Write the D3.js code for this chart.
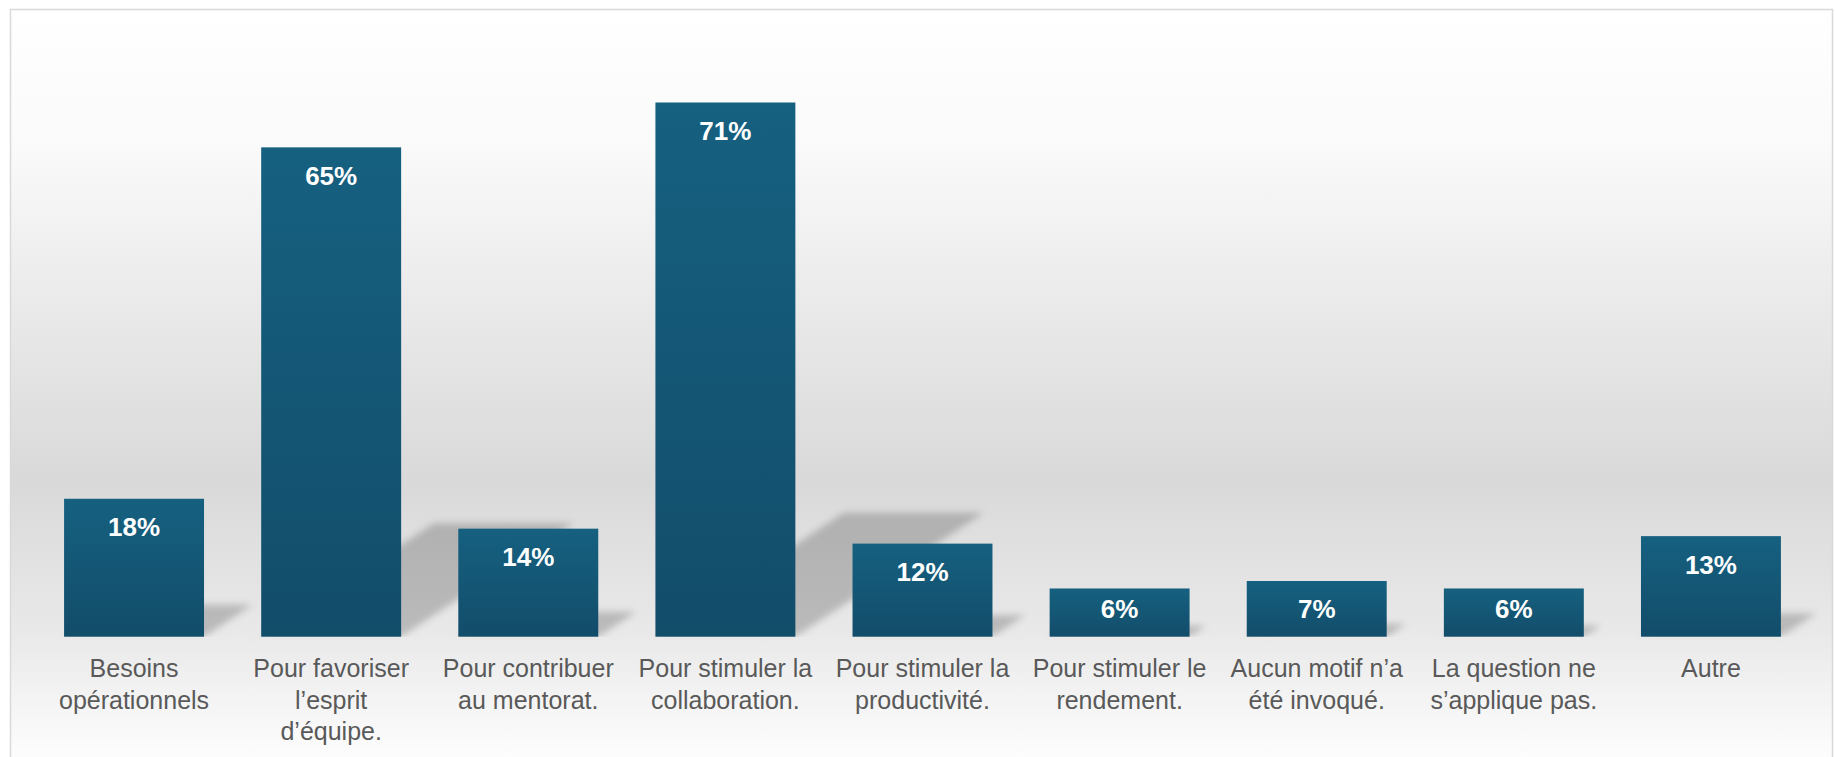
<!DOCTYPE html>
<html>
<head>
<meta charset="utf-8">
<script src="https://cdn.jsdelivr.net/npm/d3@7"></script>
<style>
  body { margin: 0; background: #ffffff; }
  svg { display: block; }
</style>
</head>
<body>
<div id="chart"></div>
<script>
// data
var categories = [
  "Besoins\nopérationnels",
  "Pour favoriser\nl’esprit\nd’équipe.",
  "Pour contribuer\nau mentorat.",
  "Pour stimuler la\ncollaboration.",
  "Pour stimuler la\nproductivité.",
  "Pour stimuler le\nrendement.",
  "Aucun motif n’a\nété invoqué.",
  "La question ne\ns’applique pas.",
  "Autre"
];
var values = [18, 65, 14, 71, 12, 6, 7, 6, 13];
var valueLabels = ["18%", "65%", "14%", "71%", "12%", "6%", "7%", "6%", "13%"];

var width = 1835,
    height = 757,
    baseline = 636.7;

var svg = d3.select("#chart").append("svg")
    .attr("width", width)
    .attr("height", height);

var defs = svg.append("defs");

// chart area background: white -> grey -> white
var bg = defs.append("linearGradient")
    .attr("id", "bg")
    .attr("gradientUnits", "userSpaceOnUse")
    .attr("x1", 0).attr("x2", 0)
    .attr("y1", 9).attr("y2", 770);
[[0, "#ffffff"], [0.18, "#fafafa"], [0.32, "#efefef"], [0.62, "#d9d9d9"], [0.82, "#e9e9e9"], [1, "#ffffff"]]
  .forEach(function(s) { bg.append("stop").attr("offset", s[0]).attr("stop-color", s[1]); });

var barGrad = defs.append("linearGradient")
    .attr("id", "barGrad")
    .attr("x1", 0).attr("x2", 0).attr("y1", 0).attr("y2", 1);
barGrad.append("stop").attr("offset", 0).attr("stop-color", "#166080");
barGrad.append("stop").attr("offset", 1).attr("stop-color", "#124d6a");

defs.append("filter")
    .attr("id", "blur")
    .attr("x", "-20%").attr("y", "-20%").attr("width", "140%").attr("height", "140%")
  .append("feGaussianBlur")
    .attr("stdDeviation", 3.5);

defs.append("clipPath")
    .attr("id", "plotClip")
  .append("rect")
    .attr("x", 0).attr("y", 0)
    .attr("width", width).attr("height", baseline);

svg.append("rect")
    .attr("x", 10.5)
    .attr("y", 9.5)
    .attr("width", 1822)
    .attr("height", 770)
    .attr("fill", "url(#bg)")
    .attr("stroke", "#d9d9d9")
    .attr("stroke-width", 1.5);

var x = d3.scaleBand()
    .domain(categories)
    .range([35.5, 1809.5])
    .paddingInner(0.29)
    .paddingOuter(0.145);

var y = d3.scaleLinear()
    .domain([-0.45, 71])
    .range([baseline, 102.5]);

var y0 = y.range()[0];

// perspective shadows (upper right)
svg.append("g")
    .attr("clip-path", "url(#plotClip)")
  .append("g")
    .attr("filter", "url(#blur)")
  .selectAll("polygon")
  .data(values)
  .enter().append("polygon")
    .attr("points", function(d, i) {
      var x0 = x(categories[i]),
          x1 = x0 + x.bandwidth(),
          sh = 0.232 * (y0 - y(d)),
          dx = 1.52 * sh;
      return [[x0, y0], [x1, y0], [x1 + dx, y0 - sh], [x0 + dx, y0 - sh]].join(" ");
    })
    .attr("fill", "#000")
    .attr("fill-opacity", 0.2);

svg.append("g")
  .selectAll("rect")
  .data(values)
  .enter().append("rect")
    .attr("x", function(d, i) { return x(categories[i]); })
    .attr("y", function(d) { return y(d); })
    .attr("width", x.bandwidth())
    .attr("height", function(d) { return y0 - y(d); })
    .attr("fill", "url(#barGrad)");

svg.append("g")
  .selectAll("text")
  .data(values)
  .enter().append("text")
    .attr("x", function(d, i) { return x(categories[i]) + x.bandwidth() / 2; })
    .attr("y", function(d) { return Math.min(y(d) + 37.5, y0 - 18.5); })
    .attr("text-anchor", "middle")
    .style("font-family", "'Liberation Sans', Arial, sans-serif")
    .style("font-weight", "bold")
    .style("font-size", "26px")
    .style("fill", "#ffffff")
    .text(function(d, i) { return valueLabels[i]; });

// category labels
var cat = svg.append("g")
  .selectAll("text")
  .data(categories)
  .enter().append("text")
    .attr("text-anchor", "middle")
    .style("font-family", "'Liberation Sans', Arial, sans-serif")
    .style("font-size", "25px")
    .style("fill", "#595959");

cat.selectAll("tspan")
  .data(function(d) { return d.split("\n").map(function(t) { return {t: t, c: d}; }); })
  .enter().append("tspan")
    .attr("x", function(d) { return x(d.c) + x.bandwidth() / 2; })
    .attr("y", function(d, i) { return 677 + i * 31.7; })
    .text(function(d) { return d.t; });
</script>
</body>
</html>
